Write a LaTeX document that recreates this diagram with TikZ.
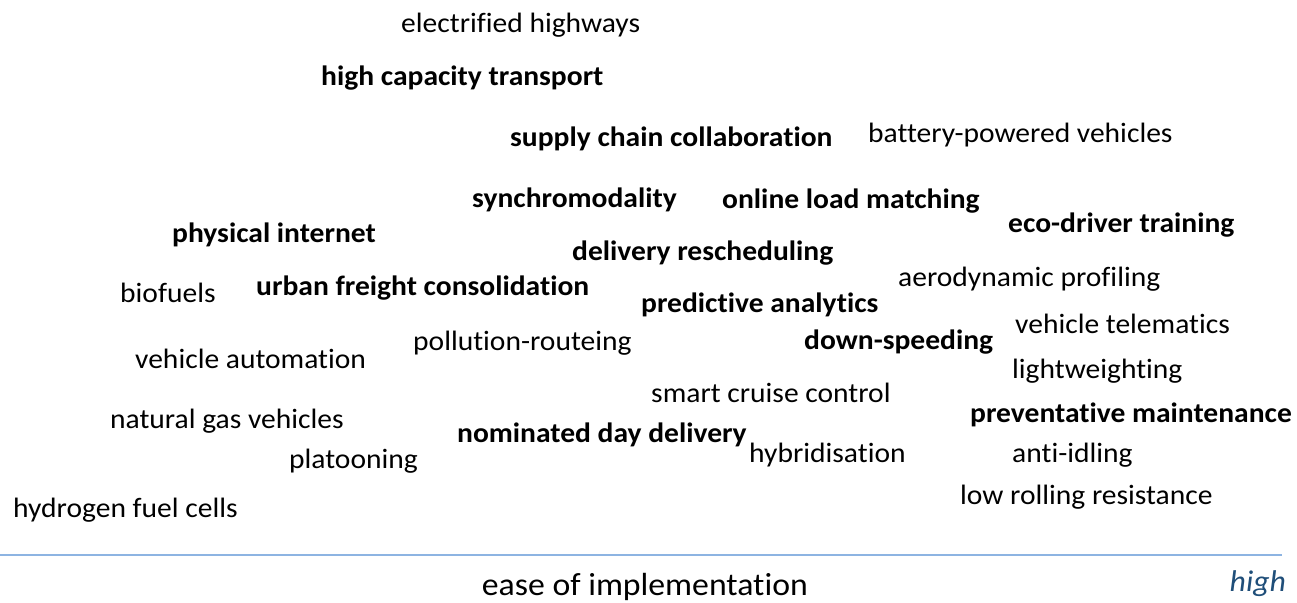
\documentclass[tikz,border=0pt]{standalone}
\usepackage{fontspec}
\setmainfont{Carlito}[FakeStretch=1.055,RawFeature=-liga]
\definecolor{axisblue}{HTML}{8DB4E2}
\definecolor{labblue}{HTML}{1F4E79}
\begin{document}
\begin{tikzpicture}[x=1pt,y=-1pt,
  w/.style={anchor=west,inner sep=0pt,text height=0.7em,text depth=0.2em,font=\fontsize{28}{33}\selectfont},
  b/.style={w,font=\fontsize{28}{33}\selectfont\bfseries},
  axislabel/.style={inner sep=0pt,anchor=base east}]
\useasboundingbox (0,0) rectangle (1297,602);
\begin{scope}[yshift=-7pt]
\node[w] (elec) at (401,23) {electrified highways};
\node[b] (hct) at (321,76) {high capacity transport};
\node[b] (scc) at (510,137) {supply chain collaboration};
\node[w] (bpv) at (868,133) {battery-powered vehicles};
\node[b] (sync) at (472,198) {synchromodality};
\node[b] (olm) at (722,199) {online load matching};
\node[b] (eco) at (1008,223) {eco-driver training};
\node[b] (phys) at (172,233) {physical internet};
\node[b] (delr) at (572,251) {delivery rescheduling};
\node[w] (aero) at (898,277) {aerodynamic profiling};
\node[w] (bio) at (120,293) {biofuels};
\node[b] (ufc) at (256,286) {urban freight consolidation};
\node[b] (pred) at (641,303) {predictive analytics};
\node[w] (vtel) at (1015,324) {vehicle telematics};
\node[w] (poll) at (413,341) {pollution-routeing};
\node[b] (down) at (804,340) {down-speeding};
\node[w] (vauto) at (135,359) {vehicle automation};
\node[w] (light) at (1012,369) {lightweighting};
\node[w] (scc2) at (651,393) {smart cruise control};
\node[w] (ngv) at (110,419) {natural gas vehicles};
\node[b] (prev) at (970,413) {preventative maintenance};
\node[b] (nom) at (457,433) {nominated day delivery};
\node[w] (hyb) at (749,453) {hybridisation};
\node[w] (plat) at (289,459) {platooning};
\node[w] (anti) at (1012,453) {anti-idling};
\node[w] (lrr) at (960,495) {low rolling resistance};
\node[w] (hfc) at (13,508) {hydrogen fuel cells};
\end{scope}
\node[axislabel,font=\fontsize{32}{38}\selectfont] (ease) at (808,595) {ease of implementation};
\node[axislabel,font=\fontsize{30}{36}\selectfont\itshape,text=labblue] (high) at (1286,591) {high};
\coordinate (la) at (0,555);
\coordinate (lb) at (1282,555);
\draw[axisblue,line width=1.2pt] (la) -- (lb);
\end{tikzpicture}
\end{document}
